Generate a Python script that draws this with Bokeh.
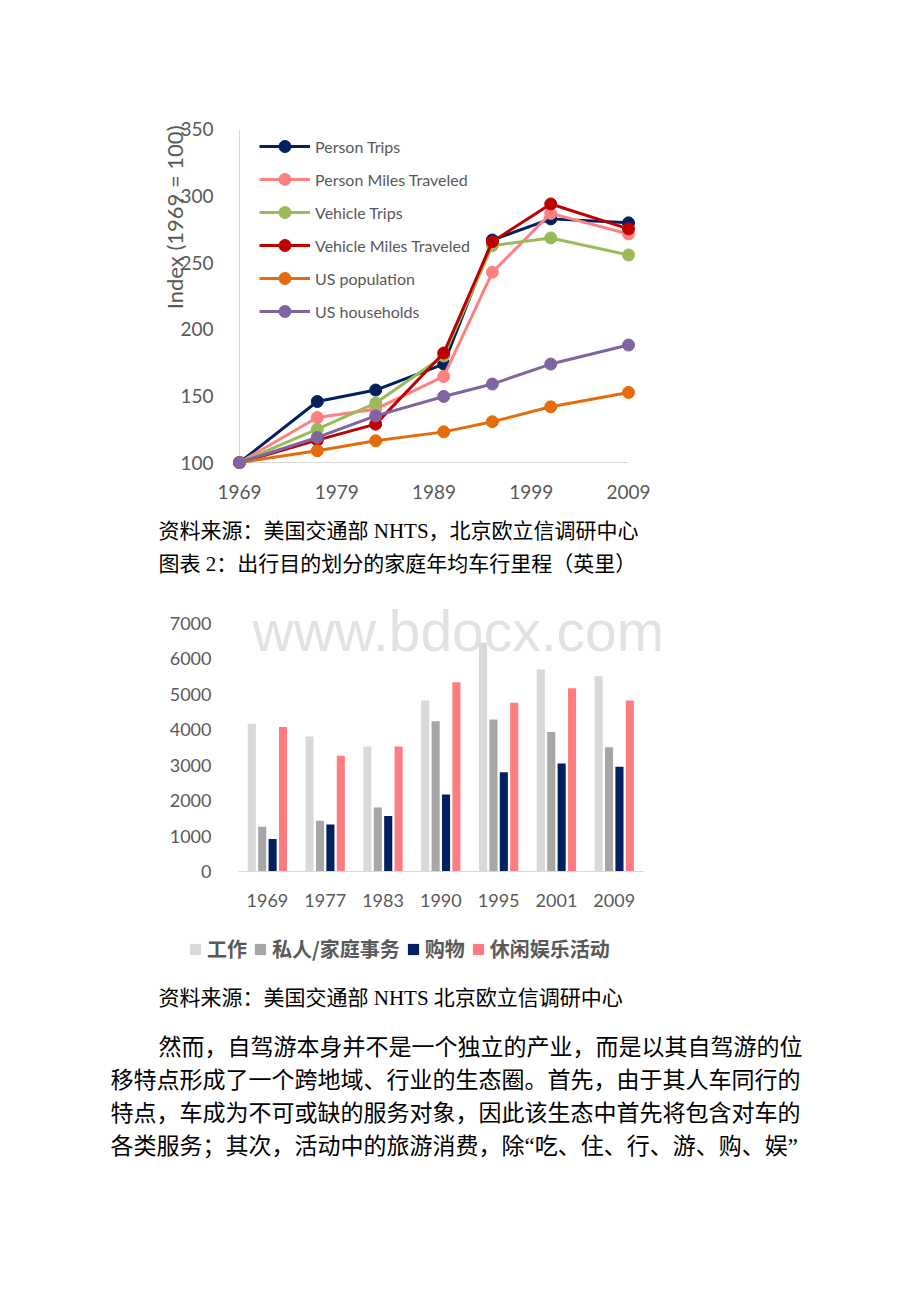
import math
from bokeh.plotting import figure
from bokeh.models import (Range1d, FixedTicker, Legend, LegendItem, Label, Title,
                          ColumnDataSource)
from bokeh.layouts import column
from bokeh.embed import file_html
from bokeh.resources import INLINE
from bokeh.core.properties import value

# ---------------- data: chart 1 (index, 1969 = 100) ----------------
years = [1969, 1977, 1983, 1990, 1995, 2001, 2009]
person_trips = [100, 145.8, 154.4, 173.9, 267.0, 282.9, 279.9]
person_miles = [100, 133.8, 140.0, 164.6, 242.8, 287.0, 271.6]
vehicle_trips = [100, 125.0, 144.6, 180.0, 262.8, 268.6, 255.8]
vehicle_miles = [100, 116.8, 128.8, 182.2, 265.8, 294.1, 275.4]
us_population = [100, 108.8, 116.3, 123.0, 130.6, 141.8, 152.6]
us_households = [100, 118.8, 135.0, 149.6, 158.9, 173.9, 188.2]
series_names = ["Person Trips", "Person Miles Traveled", "Vehicle Trips",
                "Vehicle Miles Traveled", "US population", "US households"]
series_values = [person_trips, person_miles, vehicle_trips, vehicle_miles,
                 us_population, us_households]
series_colors = ["#002060", "#ff8080", "#9bbb59", "#c00000", "#e46c0a", "#8064a2"]
x_ticks1 = [1969, 1979, 1989, 1999, 2009]
y_ticks1 = [100, 150, 200, 250, 300, 350]
y_title1 = "Index (1969 = 100)"

# ---------------- data: chart 2 (household annual vehicle miles) ----------------
bar_years = ["1969", "1977", "1983", "1990", "1995", "2001", "2009"]
work = [4170, 3810, 3530, 4830, 6460, 5710, 5510]
personal = [1260, 1430, 1810, 4240, 4290, 3940, 3510]
shopping = [920, 1330, 1570, 2170, 2800, 3050, 2960]
leisure = [4080, 3270, 3530, 5340, 4760, 5170, 4830]
bar_names = ["工作", "私人/家庭事务", "购物", "休闲娱乐活动"]
bar_colors = ["#d9d9d9", "#a6a6a6", "#002060", "#ff7c80"]
y_ticks2 = [0, 1000, 2000, 3000, 4000, 5000, 6000, 7000]
watermark = "www.bdocx.com"

# ---------------- texts ----------------
caption1 = "资料来源：美国交通部 NHTS，北京欧立信调研中心"
caption2 = "图表 2：出行目的划分的家庭年均车行里程（英里）"
source2 = "资料来源：美国交通部 NHTS 北京欧立信调研中心"
para_lines = [
    "然而，自驾游本身并不是一个独立的产业，而是以其自驾游的位",
    "移特点形成了一个跨地域、行业的生态圈。首先，由于其人车同行的",
    "特点，车成为不可或缺的服务对象，因此该生态中首先将包含对车的",
    "各类服务；其次，活动中的旅游消费，除“吃、住、行、游、购、娱”",
]

FONT = "Lato"
GRAY = "#595959"
AXIS = "#d9d9d9"
SERIF_CJK = "'Liberation Serif', 'Noto Sans CJK SC'"
W = 920


def clean(p):
    p.outline_line_color = None
    p.grid.visible = False
    p.background_fill_color = "white"
    p.border_fill_color = "white"
    if "frame_align" in p.properties():
        p.frame_align = False


# ================= chart 1 =================
p1 = figure(width=W, height=513, x_range=Range1d(1967.663, 2009.82),
            y_range=Range1d(94, 353), output_backend="svg", toolbar_location=None,
            min_border_left=226, min_border_right=284, min_border_top=125,
            min_border_bottom=43)
clean(p1)
for ax in (p1.xaxis, p1.yaxis):
    ax.axis_line_color = None
    ax.major_tick_line_color = None
    ax.minor_tick_line_color = None
    ax.major_label_text_font = FONT
    ax.major_label_text_color = GRAY
    ax.major_label_text_font_size = "19px"
p1.xaxis.ticker = FixedTicker(ticks=x_ticks1)
p1.yaxis.ticker = FixedTicker(ticks=y_ticks1)
p1.xaxis.major_label_standoff = 8
p1.yaxis.major_label_standoff = 7

# axis rules at the data origin
p1.segment(x0=[years[0], years[0]], y0=[y_ticks1[0], y_ticks1[0]],
           x1=[x_ticks1[-1], years[0]], y1=[y_ticks1[0], y_ticks1[-1]],
           line_color=AXIS, line_width=1)

items1 = []
for name, vals, col in zip(series_names, series_values, series_colors):
    src = ColumnDataSource(dict(x=years, y=vals))
    lr = p1.line("x", "y", source=src, line_color=col, line_width=3,
                 line_join="round")
    sr = p1.scatter("x", "y", source=src, size=12, fill_color=col,
                    line_color=col, line_width=1)
    items1.append(LegendItem(label=name, renderers=[lr, sr]))

legend1 = Legend(items=items1, location=(33, 144), orientation="vertical",
                 glyph_width=51, glyph_height=30, label_height=30, spacing=3,
                 padding=0, margin=0, border_line_color=None,
                 background_fill_alpha=0, label_text_font=FONT,
                 label_text_font_size="16px", label_text_color=GRAY,
                 label_standoff=5)
p1.add_layout(legend1, "center")

p1.add_layout(Title(text=y_title1, align="right", vertical_align="bottom",
                    offset=0, standoff=-20, text_font=FONT,
                    text_font_size="22px", text_font_style="normal",
                    text_color=GRAY), "left")

# ================= captions between charts =================
def text_fig(h):
    f = figure(width=W, height=h, x_range=Range1d(0, W), y_range=Range1d(h, 0),
               output_backend="svg", toolbar_location=None, min_border=0,
               x_axis_location=None, y_axis_location=None)
    clean(f)
    return f


t1 = text_fig(87)
t1.text(x=[158, 158], y=[17, 50], text=[caption1, caption2],
        text_font=value(SERIF_CJK), text_font_size="21px",
        text_baseline="middle", text_align="left", text_color="black")

# ================= chart 2 =================
n = len(bar_years)
centers = [i + 0.5 for i in range(n)]
p2 = figure(width=W, height=315, x_range=Range1d(0, 7.3),
            y_range=Range1d(0, 7480), output_backend="svg", toolbar_location=None,
            min_border_left=238, min_border_right=260, min_border_top=6,
            min_border_bottom=44)
clean(p2)
p2.xaxis.axis_line_color = AXIS
p2.xaxis.bounds = (0, n)
p2.yaxis.axis_line_color = None
for ax in (p2.xaxis, p2.yaxis):
    ax.major_tick_line_color = None
    ax.minor_tick_line_color = None
    ax.major_label_text_font = FONT
    ax.major_label_text_color = GRAY
    ax.major_label_text_font_size = "18px"
p2.xaxis.ticker = FixedTicker(ticks=centers)
p2.xaxis.major_label_overrides = {c: y for c, y in zip(centers, bar_years)}
p2.yaxis.ticker = FixedTicker(ticks=y_ticks2)
p2.xaxis.major_label_standoff = 16
p2.yaxis.major_label_standoff = 21

p2.add_layout(Label(x=14, y=241, x_units="screen", y_units="screen",
                    text=watermark, text_font="Liberation Sans",
                    text_font_size="57px", text_color="#e2e2e2",
                    text_baseline="alphabetic", level="underlay"))

offsets = [-0.27, -0.09, 0.09, 0.27]
for vals, col, off in zip([work, personal, shopping, leisure], bar_colors, offsets):
    src = ColumnDataSource(dict(x=[c + off for c in centers], top=vals))
    p2.vbar(x="x", top="top", width=0.14, source=src, fill_color=col,
            line_color=None)

# ================= legend of chart 2, source + paragraph =================
t2 = text_fig(387)
items2 = []
for name, col in zip(bar_names, bar_colors):
    # zero-height swatch carrier (draws nothing itself, only feeds the legend)
    r = t2.vbar(x=[-100], top=[0], bottom=[0], width=1, fill_color=col,
                line_color=None)
    items2.append(LegendItem(label=name, renderers=[r]))
legend2 = Legend(items=items2, location=(188, 339), orientation="horizontal",
                 glyph_width=14, glyph_height=14, label_height=14, spacing=6,
                 padding=0, margin=0, border_line_color=None,
                 background_fill_alpha=0, label_text_font="Noto Sans CJK SC",
                 label_text_font_style="bold", label_text_font_size="20px",
                 label_text_color=GRAY, label_standoff=5)
t2.add_layout(legend2, "center")

t2.text(x=[158], y=[82], text=[source2], text_font=value(SERIF_CJK),
        text_font_size="21px", text_baseline="middle", text_align="left",
        text_color="black")
t2.text(x=[158, 110, 110, 110], y=[132, 165, 198, 231], text=para_lines,
        text_font=value(SERIF_CJK), text_font_size="23px",
        text_baseline="middle", text_align="left", text_color="black")

layout = column(p1, t1, p2, t2, spacing=0)
open("out.html", "w").write(file_html(layout, INLINE))
